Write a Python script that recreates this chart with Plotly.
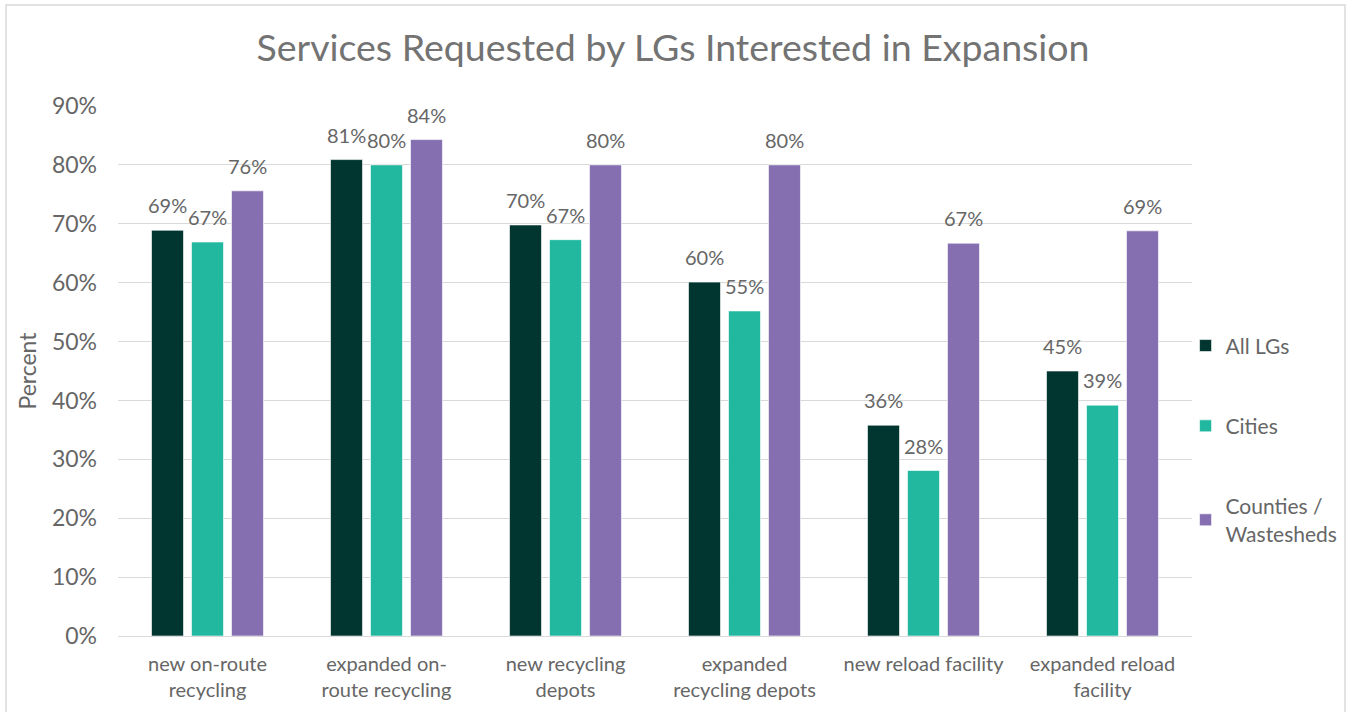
import plotly.graph_objects as go

categories = ["new on-route<br>recycling", "expanded on-<br>route recycling", "new recycling<br>depots",
              "expanded<br>recycling depots", "new reload facility", "expanded reload<br>facility"]
all_lgs = [68.9, 80.9, 69.8, 60.1, 35.8, 45.0]
cities = [66.9, 80.0, 67.3, 55.2, 28.1, 39.2]
counties = [75.6, 84.3, 80.0, 80.0, 66.7, 68.8]
series_names = ["All LGs", "Cities", "Counties /<br>Wastesheds"]
colors = ["#003530", "#22B8A0", "#856FB1"]
y_ticks = [0, 10, 20, 30, 40, 50, 60, 70, 80, 90]

FONT = "Lato, 'Open Sans', sans-serif"
GRAY = "#666666"

W, H = 1346, 712
ML, MR, MT, MB = 118, 154, 106, 76
BARGAP = 0.33
plot_w = W - ML - MR
slot = plot_w / len(categories) * (1 - BARGAP) / 3

fig = go.Figure()
series = [all_lgs, cities, counties]
for i, (name, vals) in enumerate(zip(series_names, series)):
    fig.add_trace(go.Bar(
        x=categories, y=vals, name=name,
        marker=dict(color=colors[i], line=dict(width=1, color="rgba(255,255,255,0.6)")),
        legendgroup=str(i),
    ))

annotations = []
for i, vals in enumerate(series):
    for c, v in zip(categories, vals):
        annotations.append(dict(
            x=c, y=v, xref="x", yref="y", text=f"{round(v)}%", showarrow=False,
            xanchor="center", yanchor="bottom", xshift=(i - 1) * slot, yshift=11,
            font=dict(family=FONT, size=20, color=GRAY)))

fig.update_layout(
    width=W, height=H,
    margin=dict(l=ML, r=MR, t=MT, b=MB, autoexpand=False),
    paper_bgcolor="white", plot_bgcolor="white",
    barmode="group", bargap=BARGAP, bargroupgap=0.2,
    title=dict(text="Services Requested by LGs Interested in Expansion",
               x=0.5, xanchor="center", y=1 - 48 / H, yanchor="middle",
               font=dict(family=FONT, size=37.5, color="#737373")),
    font=dict(family=FONT, color=GRAY),
    legend=dict(x=0.994, xanchor="left", y=0.37, yanchor="middle",
                font=dict(family=FONT, size=21, color=GRAY),
                tracegroupgap=50, itemwidth=30, bgcolor="rgba(0,0,0,0)"),
    annotations=annotations,
)
fig.update_yaxes(range=[0, 90], tickvals=y_ticks, ticktext=[f"{v}%" for v in y_ticks],
                 showgrid=True, gridcolor="#D9D9D9", gridwidth=1.2, zeroline=False,
                 showline=False, tickfont=dict(family=FONT, size=23, color=GRAY),
                 ticks="", ticklabelstandoff=20,
                 title=dict(text="Percent", font=dict(family=FONT, size=23, color=GRAY), standoff=8))
fig.update_xaxes(showline=True, linecolor="#D9D9D9", linewidth=1.2, ticks="",
                 tickfont=dict(family=FONT, size=20, color=GRAY), ticklabelstandoff=10)

# outer chart frame
plot_h = H - MT - MB
fig.add_shape(type="rect", xref="paper", yref="paper",
              x0=(6 - ML) / plot_w, x1=(1345 - ML) / plot_w,
              y0=-(H + 5 - (H - MB)) / plot_h, y1=((H - MB) - 5) / plot_h,
              line=dict(color="#D9D9D9", width=1.5), fillcolor="rgba(0,0,0,0)", layer="below")

fig.write_html("out.html", config={"displayModeBar": False},
               post_script="document.body.style.margin='0px';")
